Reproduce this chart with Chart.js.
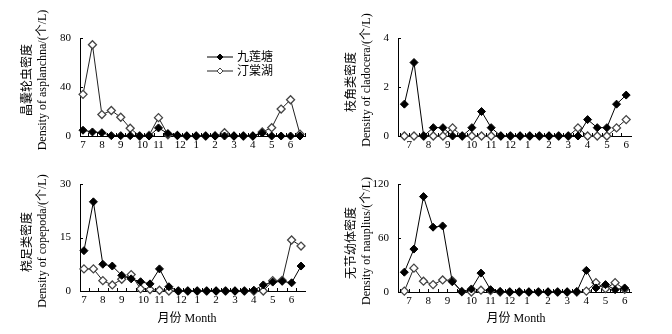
<!DOCTYPE html>
<html>
<head>
<meta charset="utf-8">
<script src="https://cdn.jsdelivr.net/npm/chart.js@4"></script>
<style>
  body { margin: 0; background: #fff; }
  #wrap { position: relative; width: 672px; height: 334px; }
  #wrap canvas { position: absolute; }
</style>
</head>
<body>
<div id="wrap">
  <canvas id="c1" width="336" height="167" style="left:0;top:0"></canvas>
  <canvas id="c2" width="336" height="167" style="left:336px;top:0"></canvas>
  <canvas id="c3" width="336" height="167" style="left:0;top:167px"></canvas>
  <canvas id="c4" width="336" height="167" style="left:336px;top:167px"></canvas>
</div>
<script>
// series names
const seriesNames = ['九莲塘', '汀棠湖'];

// month tick labels (Jul -> Jun), sampling is twice a month (24 points)
const monthLabels = ['7', '8', '9', '10', '11', '12', '1', '2', '3', '4', '5', '6'];
const tickPosLeft = [0, 2, 4, 6.3, 8, 10.3, 12, 14, 16, 18, 20, 22];
const tickPosRight = [0.5, 2.5, 4.5, 7, 9, 11, 12.8, 15, 17, 19, 21, 23];

// asplanchna
const aspJiu = [4.7, 3.3, 2.7, 0.3, 0.3, 0.3, 0, 0, 6.6, 2, 0.5, 0, 0, 0, 0, 0, 0, 0, 0, 2.5, 0, 0, 0, 0];
const aspTing = [34, 74.5, 17.5, 20.8, 15.3, 6.3, 0, 0.5, 15, 1, 0.5, 0, 0, 0, 0.3, 2.7, 0, 0, 0, 3.3, 6.8, 22, 29.6, 1.4];

// cladocera
const claJiu = [1.3, 3.0, 0, 0.34, 0.34, 0, 0, 0.34, 1.0, 0.34, 0, 0, 0, 0, 0, 0, 0, 0, 0, 0.67, 0.34, 0.34, 1.3, 1.67];
const claTing = [0, 0, 0, 0, 0, 0.33, 0, 0, 0, 0, 0, 0, 0, 0, 0, 0, 0, 0, 0.33, 0, 0, 0, 0.33, 0.67];

// copepoda
const copJiu = [11.3, 25, 7.5, 7, 4.4, 3.4, 2.6, 2, 6.2, 1.2, 0, 0, 0, 0, 0, 0, 0, 0, 0.2, 1.7, 2.5, 2.7, 2.3, 7];
const copTing = [6.2, 6.2, 2.9, 1.7, 3.3, 4.6, 0.6, 0.4, 0.2, 0, 0, 0, 0, 0, 0, 0, 0, 0, 0, 0, 2.9, 3, 14.3, 12.6];

// nauplius
const naJiu = [22, 47.7, 106, 72, 73.4, 11.5, 0.4, 3.4, 21, 2.6, 0.5, 0, 0, 0, 0, 0, 0, 0, 0.4, 24, 4.5, 8.2, 2.6, 4.5];
const naTing = [1, 26.5, 12, 8.2, 13.4, 12.7, 0.4, 0, 2, 1.5, 0, 0, 0, 0, 0, 0, 0, 0, 0, 1, 10.4, 3.7, 10.4, 3];

const serif = '"Liberation Serif", "Noto Sans CJK SC", serif';

// inward tick marks: x between sampling dates, y at each labelled value
const innerTicks = {
  id: 'innerTicks',
  afterDraw(chart) {
    const ctx = chart.ctx;
    const xs = chart.scales.x, ys = chart.scales.y;
    ctx.save();
    ctx.strokeStyle = '#000';
    ctx.lineWidth = 1;
    ctx.beginPath();
    for (let i = 0; i <= 24; i++) {
      const v = i - 0.5;
      if (v <= xs.min || v >= xs.max) continue;
      const px = Math.round(xs.getPixelForValue(v)) + 0.5;
      ctx.moveTo(px, ys.bottom);
      ctx.lineTo(px, ys.bottom - 3);
    }
    ys.ticks.forEach(t => {
      const py = Math.round(ys.getPixelForValue(t.value)) + 0.5;
      ctx.moveTo(xs.left, py);
      ctx.lineTo(xs.left + 3, py);
    });
    ctx.stroke();
    ctx.restore();
  }
};

// draws the rotated axis titles, x title and legend
const extrasPlugin = {
  id: 'extras',
  afterDraw(chart, args, opts) {
    const ctx = chart.ctx;
    (opts.texts || []).forEach(t => {
      ctx.save();
      ctx.translate(t.x, t.y);
      if (t.rotate) ctx.rotate(-Math.PI / 2);
      ctx.font = t.font || ('12px ' + serif);
      ctx.fillStyle = '#000';
      ctx.textAlign = 'center';
      ctx.textBaseline = 'middle';
      ctx.fillText(t.text, 0, 0);
      ctx.restore();
    });
    if (opts.legend) {
      const lg = opts.legend;
      chart.data.datasets.forEach((ds, i) => {
        const y = lg.y + i * lg.gap;
        ctx.save();
        ctx.strokeStyle = ds.borderColor;
        ctx.lineWidth = 1;
        ctx.beginPath();
        ctx.moveTo(lg.x, y);
        ctx.lineTo(lg.x + lg.len, y);
        ctx.stroke();
        const cx = lg.x + lg.len / 2, r = 3;
        ctx.beginPath();
        ctx.moveTo(cx, y - r); ctx.lineTo(cx + r, y); ctx.lineTo(cx, y + r); ctx.lineTo(cx - r, y);
        ctx.closePath();
        ctx.fillStyle = ds.pointBackgroundColor;
        ctx.fill();
        ctx.strokeStyle = ds.pointBorderColor;
        ctx.stroke();
        ctx.font = '12px ' + serif;
        ctx.fillStyle = '#000';
        ctx.textBaseline = 'middle';
        ctx.fillText(ds.label, lg.x + lg.len + 4, y + 1);
        ctx.restore();
      });
    }
  }
};

function toPoints(vals) {
  return vals.map((v, i) => ({ x: i, y: v }));
}

function makePanel(id, box, jiu, ting, yMax, yStep, xMin, xMax, tickPos, extras) {
  const W = 336, H = 167;
  return new Chart(document.getElementById(id), {
    type: 'line',
    data: {
      datasets: [
        {
          label: seriesNames[0],
          data: toPoints(jiu),
          borderColor: '#000',
          borderWidth: 1,
          pointStyle: 'rectRot',
          pointRadius: 4,
          pointBackgroundColor: '#000',
          pointBorderColor: '#000',
          pointBorderWidth: 1,
          clip: false
        },
        {
          label: seriesNames[1],
          data: toPoints(ting),
          borderColor: '#222',
          borderWidth: 1,
          pointStyle: 'rectRot',
          pointRadius: 4,
          pointBackgroundColor: '#fff',
          pointBorderColor: '#444',
          pointBorderWidth: 1.3,
          clip: false
        }
      ]
    },
    options: {
      responsive: false,
      animation: false,
      layout: { padding: { left: 0, top: box.top, right: W - box.right, bottom: 0 } },
      plugins: {
        legend: { display: false },
        tooltip: { enabled: false },
        extras: extras
      },
      scales: {
        x: {
          type: 'linear',
          min: xMin,
          max: xMax,
          afterBuildTicks: s => { s.ticks = tickPos.map(v => ({ value: v })); },
          afterFit: s => { s.height = H - box.bottom; },
          grid: { drawOnChartArea: false, drawTicks: false },
          border: { color: '#000', width: 1 },
          ticks: {
            autoSkip: false,
            maxRotation: 0,
            padding: 3,
            color: '#000',
            font: { family: serif, size: 11 },
            callback: (v, i) => monthLabels[i]
          }
        },
        y: {
          min: 0,
          max: yMax,
          afterFit: s => { s.width = box.left; },
          grid: { drawOnChartArea: false, drawTicks: false },
          border: { color: '#000', width: 1 },
          ticks: {
            stepSize: yStep,
            padding: 9,
            color: '#000',
            font: { family: serif, size: 11 }
          }
        }
      }
    },
    plugins: [innerTicks, extrasPlugin]
  });
}

makePanel('c1', { left: 80, top: 38, right: 305, bottom: 136 }, aspJiu, aspTing, 80, 40, -0.32, 23.53, tickPosLeft, {
  texts: [
    { text: '晶囊轮虫密度', x: 28, y: 80, rotate: true },
    { text: 'Density of asplanchna/(个/L)', x: 43, y: 80, rotate: true }
  ],
  legend: { x: 207, y: 57, gap: 14, len: 26 }
});

makePanel('c2', { left: 62, top: 38, right: 295, bottom: 136 }, claJiu, claTing, 4, 2, -0.66, 23.5, tickPosRight, {
  texts: [
    { text: '枝角类密度', x: 16, y: 82, rotate: true },
    { text: 'Density of cladocera/(个/L)', x: 31, y: 80, rotate: true }
  ]
});

makePanel('c3', { left: 80, top: 17, right: 305, bottom: 124 }, copJiu, copTing, 30, 15, -0.42, 23.42, tickPosLeft, {
  texts: [
    { text: '桡足类密度', x: 28, y: 75, rotate: true },
    { text: 'Density of copepoda/(个/L)', x: 43, y: 74, rotate: true },
    { text: '月份 Month', x: 187, y: 152 }
  ]
});

makePanel('c4', { left: 62, top: 17, right: 295, bottom: 125 }, naJiu, naTing, 120, 60, -0.66, 23.66, tickPosRight, {
  texts: [
    { text: '无节幼体密度', x: 16, y: 76, rotate: true },
    { text: 'Density of nauplius/(个/L)', x: 31, y: 74, rotate: true },
    { text: '月份 Month', x: 180, y: 152 }
  ]
});
</script>
</body>
</html>
